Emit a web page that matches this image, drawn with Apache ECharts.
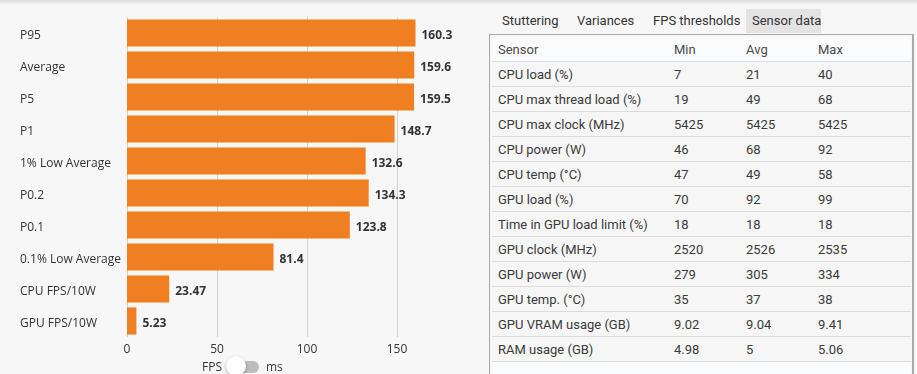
<!DOCTYPE html>
<html>
<head>
<meta charset="utf-8">
<script src="https://cdn.jsdelivr.net/npm/echarts@6/dist/echarts.min.js"></script>
<style>
  html, body { margin: 0; padding: 0; width: 917px; height: 374px; overflow: hidden; background: #f7f7f7; font-family: Roboto, "Open Sans", sans-serif; }
  #topbar { position: absolute; left: 0; top: 0; width: 917px; height: 5px; background: linear-gradient(#dcdcdc, #f7f7f7); }
  #chart { position: absolute; left: 0; top: 0; width: 480px; height: 374px; }
  #toggle { position: absolute; left: 0; top: 356px; width: 480px; height: 20px; font-family: "Open Sans", sans-serif; font-size: 12px; color: #333; }
  #toggle .fps { position: absolute; left: 202px; top: 2px; }
  #toggle .ms { position: absolute; left: 266px; top: 2px; }
  #toggle .track { position: absolute; left: 234px; top: 5px; width: 25px; height: 12px; border-radius: 6px; background: #bdbdbd; }
  #toggle .knob { position: absolute; left: 226px; top: 0px; width: 20px; height: 20px; border-radius: 10px; background: #fff; box-shadow: 0 1px 3px rgba(0,0,0,0.35); }
  #tabs { position: absolute; left: 490px; top: 9px; height: 24px; font-size: 13px; color: #333; }
  #tabs span { position: absolute; top: 0; height: 24px; line-height: 24px; white-space: nowrap; }
  #tabs span.active { background: #e3e3e3; }
  #box { position: absolute; left: 489px; top: 34px; width: 425px; height: 345px; border: 1px solid #a9a9a9; border-right-width: 2px; box-sizing: border-box; }
  #inner { position: absolute; left: 2px; top: 2px; width: 419px; height: 340px; background: #fafbfd; border-radius: 4px; }
  #inner table { border-collapse: collapse; width: 100%; font-size: 13px; color: #3a3a3a; }
  #inner td, #inner th { height: 24px; padding: 0; border-bottom: 1px solid #dcdcdc; text-align: left; font-weight: normal; white-space: nowrap; }
  #inner th { color: #4a4a4a; }
  #inner tbody tr { background: #f6f6f6; }
</style>
</head>
<body>
<div id="topbar"></div>
<div id="chart"></div>
<div id="toggle"><span class="fps">FPS</span><div class="track"></div><div class="knob"></div><span class="ms">ms</span></div>
<div id="tabs"></div>
<div id="box"><div id="inner"></div></div>
<script>
// ---- Bar chart data ----
var categories = ["P95", "Average", "P5", "P1", "1% Low Average", "P0.2", "P0.1", "0.1% Low Average", "CPU FPS/10W", "GPU FPS/10W"];
var fpsValues = [160.3, 159.6, 159.5, 148.7, 132.6, 134.3, 123.8, 81.4, 23.47, 5.23];
var axisTicks = [0, 50, 100, 150];

// ---- Tabs ----
var tabNames = ["Stuttering", "Variances", "FPS thresholds", "Sensor data"];
var activeTab = "Sensor data";

// ---- Sensor table data ----
var tableHeader = ["Sensor", "Min", "Avg", "Max"];
var sensorNames = ["CPU load (%)", "CPU max thread load (%)", "CPU max clock (MHz)", "CPU power (W)", "CPU temp (°C)", "GPU load (%)", "Time in GPU load limit (%)", "GPU clock (MHz)", "GPU power (W)", "GPU temp. (°C)", "GPU VRAM usage (GB)", "RAM usage (GB)"];
var sensorMin = ["7", "19", "5425", "46", "47", "70", "18", "2520", "279", "35", "9.02", "4.98"];
var sensorAvg = ["21", "49", "5425", "68", "49", "92", "18", "2526", "305", "37", "9.04", "5"];
var sensorMax = ["40", "68", "5425", "92", "58", "99", "18", "2535", "334", "38", "9.41", "5.06"];

var chart = echarts.init(document.getElementById('chart'), null, { renderer: 'canvas' });
chart.setOption({
  animation: false,
  backgroundColor: 'transparent',
  grid: { left: 127, top: 17, width: 288.5, height: 320, containLabel: false },
  xAxis: {
    type: 'value', min: 0, max: Math.max.apply(null, fpsValues), interval: 50,
    axisLine: { show: false }, axisTick: { show: false },
    splitLine: { show: true, showMaxLine: false, lineStyle: { color: '#d2d2d2', width: 1 } },
    axisLabel: { showMaxLabel: false, color: '#333', fontSize: 12, fontFamily: 'Open Sans', margin: 7,
      formatter: function (v) { return axisTicks.indexOf(v) >= 0 ? String(v) : ''; } }
  },
  yAxis: {
    type: 'category', data: categories, inverse: true,
    axisLine: { show: false }, axisTick: { show: false },
    axisLabel: { align: 'left', margin: 107, color: '#333', fontSize: 12, fontFamily: 'Open Sans',
      formatter: function (v) { return '{a|' + v + '}'; },
      rich: { a: { color: '#333', fontSize: 12, fontFamily: 'Open Sans', padding: [5, 0, 0, 0] } } }
  },
  series: [{
    type: 'bar', data: fpsValues, barCategoryGap: '15%',
    itemStyle: { color: '#f07f22' },
    label: { show: true, position: 'right', distance: 6, offset: [0, 3], color: '#333', fontWeight: 'bold', fontSize: 12, fontFamily: 'Open Sans',
      formatter: function (p) { return String(p.value); } }
  }]
});

// tabs
var tabX = [12, 87, 163, 262];
var tabsEl = document.getElementById('tabs');
tabNames.forEach(function (t, i) {
  var s = document.createElement('span');
  s.textContent = t;
  if (t === activeTab) {
    s.className = 'active';
    s.style.left = (tabX[i] - 6) + 'px';
    s.style.width = '75px';
    s.style.paddingLeft = '6px';
    s.style.boxSizing = 'border-box';
  } else {
    s.style.left = tabX[i] + 'px';
  }
  tabsEl.appendChild(s);
});

// table
var colWidths = [182, 72, 72, 93];
var html = '<table><colgroup>';
colWidths.forEach(function (w) { html += '<col style="width:' + w + 'px">'; });
html += '</colgroup><thead><tr>';
tableHeader.forEach(function (h, i) { html += '<th style="padding-left:' + (i === 0 ? 6 : 0) + 'px">' + h + '</th>'; });
html += '</tr></thead><tbody>';
sensorNames.forEach(function (n, r) {
  html += '<tr><td style="padding-left:6px">' + n + '</td><td>' + sensorMin[r] + '</td><td>' + sensorAvg[r] + '</td><td>' + sensorMax[r] + '</td></tr>';
});
html += '</tbody></table>';
document.getElementById('inner').innerHTML = html;
</script>
</body>
</html>
